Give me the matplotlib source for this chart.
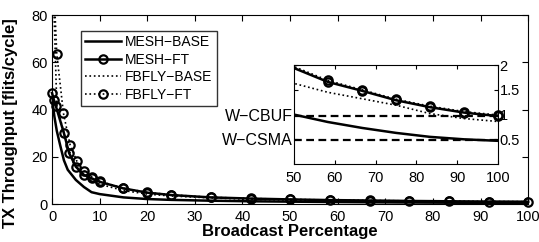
import matplotlib
matplotlib.use('Agg')
import matplotlib.pyplot as plt

plt.rcParams['font.family'] = ['Liberation Sans', 'DejaVu Sans']
plt.rcParams['axes.unicode_minus'] = True

# broadcast percentage (x) and throughput (y) per series
x_mesh_base = [0, 0.5, 1, 1.7, 2.5, 3.3, 5, 6.7, 8.3, 10, 15, 20, 25, 33.3, 41.7,
               50, 58.3, 66.7, 75, 83.3, 91.7, 100]
y_mesh_base = [45, 37, 31, 25, 18.5, 14.5, 10.2, 7.2, 5.0, 4.2, 2.8, 2.1, 1.75, 1.4, 1.15,
               1.0, 0.85, 0.73, 0.63, 0.55, 0.5, 0.47]

x_mesh_ft = [0, 0.4, 0.8, 2.5, 3.6, 5, 6.7, 8.3, 10, 15, 20, 25, 33.3, 41.7,
             50, 58.3, 66.7, 75, 83.3, 91.7, 100]
y_mesh_ft = [47, 44, 41.5, 30, 21.5, 15.8, 12.3, 10.9, 9.4, 6.6, 4.8, 3.8, 2.8, 2.3,
             1.94, 1.66, 1.48, 1.29, 1.15, 1.04, 0.97]

x_fbfly_base = [0, 1, 2.5, 3.3, 5, 6.7, 8.3, 10, 15, 20, 25, 33.3, 41.7,
                50, 58.3, 66.7, 75, 83.3, 91.7, 100]
y_fbfly_base = [110, 42, 30, 24, 16, 12.3, 10, 8.4, 5.7, 4.2, 3.4, 2.6, 2.0,
                1.63, 1.45, 1.32, 1.19, 1.02, 0.92, 0.86]

x_fbfly_ft = [0, 1, 2.4, 3.8, 5.2, 6.7, 8.3, 10, 15, 20, 25, 33.3, 41.7,
              50, 58.3, 66.7, 75, 83.3, 91.7, 100]
y_fbfly_ft = [110, 63.5, 38.4, 25, 18.2, 14.1, 11.5, 9.6, 6.7, 4.9, 3.9, 2.85, 2.35,
              1.97, 1.69, 1.5, 1.31, 1.17, 1.06, 0.99]

w_cbuf = 0.97
w_csma = 0.485


def tail(xs, ys, x0):
    # points from x0 on, for the zoomed inset
    pts = [(a, b) for a, b in zip(xs, ys) if a >= x0]
    return [p[0] for p in pts], [p[1] for p in pts]


fig = plt.figure(figsize=(5.39, 2.42), dpi=100)
ax = fig.add_axes([0.0965, 0.157, 0.8835, 0.781])

ax.plot(x_mesh_base, y_mesh_base, '-', color='k', lw=1.8, label='MESH\u2212BASE')
ax.plot(x_mesh_ft, y_mesh_ft, '-o', color='k', lw=1.8, ms=6, mfc='none', mew=1.6,
        label='MESH\u2212FT', clip_on=False)
ax.plot(x_fbfly_base, y_fbfly_base, ':', color='k', lw=1.2, label='FBFLY\u2212BASE')
ax.plot(x_fbfly_ft, y_fbfly_ft, ':o', color='k', lw=1.2, ms=6, mfc='none', mew=1.6,
        label='FBFLY\u2212FT')

ax.set_xlim(0, 100)
ax.set_ylim(0, 80)
ax.set_xticks(range(0, 101, 10))
ax.set_yticks([0, 20, 40, 60, 80])
ax.tick_params(direction='in', top=True, right=True, labelsize=10.5, length=4)
ax.tick_params(axis='x', pad=4)
ax.tick_params(axis='y', pad=3)
ax.set_xlabel('Broadcast Percentage', fontsize=12, fontweight='bold', labelpad=0)
ax.set_ylabel('TX Throughput [flits/cycle]', fontsize=12, fontweight='bold')
ax.yaxis.set_label_coords(-0.071, 0.43)
leg = ax.legend(loc='upper left', bbox_to_anchor=(0.06, 0.915), fontsize=10,
                frameon=True, fancybox=False, edgecolor='k', handlelength=2.6,
                handletextpad=0.3, borderpad=0.3, labelspacing=0.25, borderaxespad=0)
leg.get_frame().set_linewidth(1.0)

ins = fig.add_axes([0.5455, 0.322, 0.3785, 0.409])
xs, ys = tail(x_mesh_base, y_mesh_base, 41)
ins.plot(xs, ys, '-', color='k', lw=1.8)
xs, ys = tail(x_mesh_ft, y_mesh_ft, 41)
ins.plot(xs, ys, '-', color='k', lw=1.8)
xs, ys = tail(x_mesh_ft, y_mesh_ft, 55)
ins.plot(xs, ys, 'o', color='k', ms=6, mfc='none', mew=1.6, clip_on=False)
xs, ys = tail(x_fbfly_base, y_fbfly_base, 41)
ins.plot(xs, ys, ':', color='k', lw=1.2)
xs, ys = tail(x_fbfly_ft, y_fbfly_ft, 41)
ins.plot(xs, ys, ':', color='k', lw=1.2)
xs, ys = tail(x_fbfly_ft, y_fbfly_ft, 55)
ins.plot(xs, ys, 'o', color='k', ms=6, mfc='none', mew=1.6, clip_on=False)
ins.axhline(w_cbuf, color='k', ls=(0, (3.5, 2)), lw=1.6)
ins.axhline(w_csma, color='k', ls=(0, (3.5, 2)), lw=1.6)
ins.set_xlim(50, 100)
ins.set_ylim(0, 2)
ins.set_xticks(range(50, 101, 10))
ins.set_yticks([0.5, 1, 1.5, 2])
ins.set_yticklabels(['0.5', '1', '1.5', '2'])
ins.yaxis.tick_right()
ins.tick_params(direction='in', top=True, left=True, labelsize=10.5, length=3)
ins.tick_params(axis='x', pad=5)
ins.tick_params(axis='y', pad=1)
ins.text(-0.005, w_cbuf / 2, 'W\u2212CBUF', transform=ins.transAxes, ha='right',
         va='center', fontsize=11.5)
ins.text(-0.005, w_csma / 2, 'W\u2212CSMA', transform=ins.transAxes, ha='right',
         va='center', fontsize=11.5)

fig.savefig('out.png', dpi=100)
